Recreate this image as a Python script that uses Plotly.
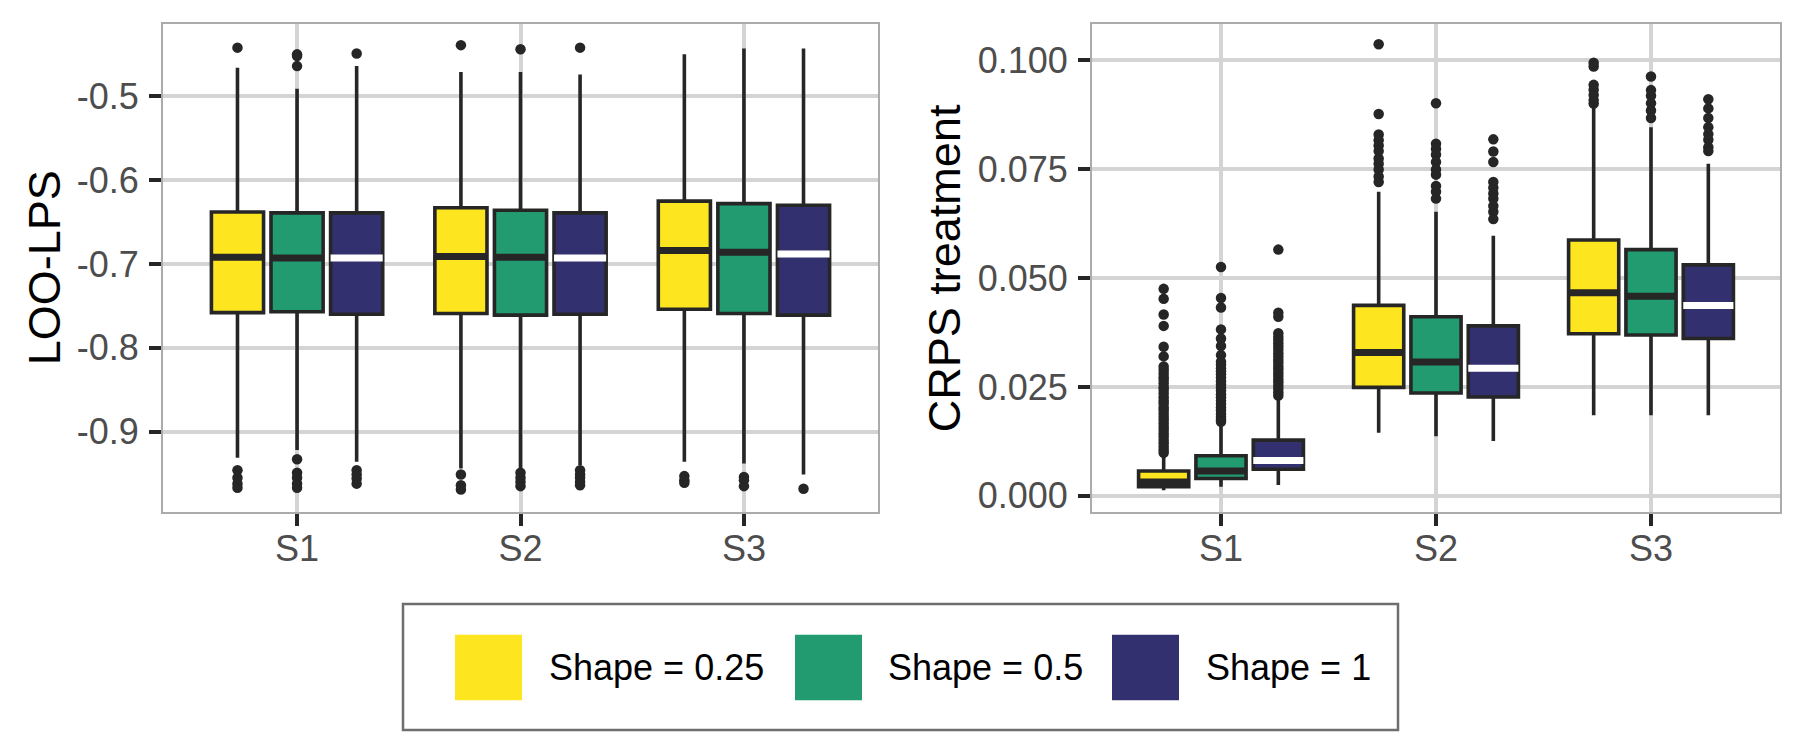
import plotly.graph_objects as go

# ---------------- data ----------------
categories = ["S1", "S2", "S3"]
shape_labels = ["Shape = 0.25", "Shape = 0.5", "Shape = 1"]

lps_ticks = [-0.9, -0.8, -0.7, -0.6, -0.5]
lps_ticktext = ["-0.9", "-0.8", "-0.7", "-0.6", "-0.5"]
crps_ticks = [0.0, 0.025, 0.05, 0.075, 0.1]
crps_ticktext = ["0.000", "0.025", "0.050", "0.075", "0.100"]

# LOO-LPS box statistics: rows = shape (0.25, 0.5, 1), columns = S1, S2, S3
lps_lower = [[-0.931, -0.944, -0.936], [-0.922, -0.944, -0.938], [-0.936, -0.940, -0.951]]
lps_q1 = [[-0.758, -0.759, -0.754], [-0.757, -0.761, -0.759], [-0.760, -0.760, -0.761]]
lps_median = [[-0.692, -0.691, -0.684], [-0.693, -0.692, -0.686], [-0.693, -0.693, -0.688]]
lps_q3 = [[-0.638, -0.633, -0.625], [-0.639, -0.636, -0.628], [-0.639, -0.639, -0.630]]
lps_upper = [[-0.466, -0.471, -0.450], [-0.491, -0.471, -0.443], [-0.464, -0.474, -0.443]]
lps_out_025 = [[-0.442, -0.946, -0.955, -0.962, -0.967],
               [-0.439, -0.951, -0.964, -0.969],
               [-0.953, -0.958, -0.961]]
lps_out_05 = [[-0.450, -0.452, -0.464, -0.933, -0.949, -0.955, -0.962, -0.967],
              [-0.444, -0.949, -0.955, -0.960, -0.965],
              [-0.954, -0.958, -0.965]]
lps_out_1 = [[-0.449, -0.946, -0.951, -0.956, -0.962],
             [-0.442, -0.946, -0.951, -0.955, -0.960, -0.964],
             [-0.968]]

# CRPS treatment box statistics
crps_lower = [[0.0013, 0.0145, 0.0185], [0.0021, 0.0137, 0.0185], [0.0025, 0.0126, 0.0185]]
crps_q1 = [[0.0021, 0.0249, 0.0372], [0.0040, 0.0236, 0.0369], [0.0061, 0.0227, 0.0361]]
crps_median = [[0.0032, 0.0329, 0.0466], [0.0057, 0.0307, 0.0458], [0.0081, 0.0293, 0.0437]]
crps_q3 = [[0.0057, 0.0437, 0.0587], [0.0092, 0.0411, 0.0565], [0.0128, 0.0390, 0.0530]]
crps_upper = [[0.0095, 0.0698, 0.0895], [0.0166, 0.0652, 0.0846], [0.0226, 0.0597, 0.0762]]
crps_out_025 = [[0.0475, 0.0452, 0.0416, 0.0390, 0.0342, 0.0320, 0.0297, 0.0289, 0.0281,
                 0.0272, 0.0266, 0.0258, 0.0249, 0.0243, 0.0235, 0.0226, 0.0219, 0.0212,
                 0.0203, 0.0197, 0.0189, 0.0181, 0.0174, 0.0166, 0.0158, 0.0151, 0.0143,
                 0.0136, 0.0128, 0.0121, 0.0113, 0.0106, 0.0099],
                [0.1036, 0.0876, 0.0829, 0.0816, 0.0804, 0.0791, 0.0774, 0.0762, 0.0749,
                 0.0733, 0.0720],
                [0.0994, 0.0985, 0.0943, 0.0932, 0.0920, 0.0908, 0.0900]]
crps_out_05 = [[0.0525, 0.0454, 0.0432, 0.0382, 0.0361, 0.0344, 0.0323, 0.0308, 0.0301,
                0.0293, 0.0286, 0.0279, 0.0271, 0.0263, 0.0256, 0.0248, 0.0241, 0.0233,
                0.0226, 0.0218, 0.0211, 0.0203, 0.0196, 0.0188, 0.0181, 0.0175, 0.0170],
               [0.0901, 0.0808, 0.0796, 0.0783, 0.0766, 0.0749, 0.0737, 0.0711, 0.0698,
                0.0682],
               [0.0962, 0.0931, 0.0918, 0.0901, 0.0884, 0.0867]]
crps_out_1 = [[0.0565, 0.0420, 0.0411, 0.0373, 0.0365, 0.0358, 0.0350, 0.0343, 0.0335,
               0.0327, 0.0320, 0.0312, 0.0305, 0.0297, 0.0290, 0.0282, 0.0275, 0.0267,
               0.0260, 0.0252, 0.0245, 0.0237, 0.0230],
              [0.0818, 0.0790, 0.0766, 0.0720, 0.0707, 0.0694, 0.0682, 0.0665, 0.0652,
               0.0635],
              [0.0910, 0.0889, 0.0867, 0.0846, 0.0830, 0.0817, 0.0800, 0.0791]]

# ---------------- style ----------------
FILLS = ["#FDE51F", "#229B71", "#32306F"]
MEDIAN_COLORS = ["#262626", "#262626", "#FFFFFF"]
OUTLINE = "#262626"
FONT = "Liberation Sans, Arial, Helvetica, sans-serif"
DODGE = 0.8 / 3
BOXW = 0.7 / 3
W, H = 1800, 750

fig = go.Figure()


def add_panel(xa, ya, lower, q1, med, q3, upper, outliers):
    for g in range(3):
        xs = [i + 1 + (g - 1) * DODGE for i in range(len(categories))]
        fig.add_trace(go.Box(
            x=xs, q1=q1[g], median=med[g], q3=q3[g],
            lowerfence=lower[g], upperfence=upper[g],
            width=BOXW, fillcolor=FILLS[g],
            line=dict(color=OUTLINE, width=3.6), whiskerwidth=0,
            boxpoints=False, xaxis=xa, yaxis=ya,
            showlegend=False, hoverinfo="skip", name=shape_labels[g]))
        mx, my = [], []
        for i, x in enumerate(xs):
            mx += [x - BOXW / 2, x + BOXW / 2, None]
            my += [med[g][i], med[g][i], None]
        fig.add_trace(go.Scatter(
            x=mx, y=my, mode="lines",
            line=dict(color=MEDIAN_COLORS[g], width=7),
            xaxis=xa, yaxis=ya, showlegend=False, hoverinfo="skip"))
        ox, oy = [], []
        for i, x in enumerate(xs):
            ox += [x] * len(outliers[g][i])
            oy += outliers[g][i]
        fig.add_trace(go.Scatter(
            x=ox, y=oy, mode="markers",
            marker=dict(color=OUTLINE, size=10.5, line=dict(width=0)),
            xaxis=xa, yaxis=ya, showlegend=False, hoverinfo="skip"))


add_panel("x", "y", lps_lower, lps_q1, lps_median, lps_q3, lps_upper,
          [lps_out_025, lps_out_05, lps_out_1])
add_panel("x2", "y2", crps_lower, crps_q1, crps_median, crps_q3, crps_upper,
          [crps_out_025, crps_out_05, crps_out_1])


def px(x):
    return x / W


def py(y):
    return 1 - y / H


common_axis = dict(
    showgrid=True, gridcolor="#D4D4D4", gridwidth=4,
    showline=True, mirror=True, linecolor="#ABABAB", linewidth=2,
    ticks="outside", ticklen=12, tickwidth=4, tickcolor="#262626",
    tickfont=dict(family=FONT, size=36, color="#4D4D4D"),
    zeroline=False, fixedrange=True,
)

ydom = [py(515), py(24)]
fig.update_layout(
    width=W, height=H,
    margin=dict(l=0, r=0, t=0, b=0),
    paper_bgcolor="white", plot_bgcolor="white",
    boxmode="overlay", showlegend=False,
    font=dict(family=FONT),
    xaxis=dict(domain=[px(163), px(878)], range=[0.4, 3.6], tickvals=[1, 2, 3],
               ticktext=categories, anchor="y", ticklabelstandoff=-8, **common_axis),
    yaxis=dict(domain=ydom, range=[-0.9953, -0.4136], tickvals=lps_ticks,
               ticktext=lps_ticktext, anchor="x", ticklabelstandoff=3, **common_axis),
    xaxis2=dict(domain=[px(1092), px(1780)], range=[0.4, 3.6], tickvals=[1, 2, 3],
                ticktext=categories, anchor="y2", ticklabelstandoff=-8, **common_axis),
    yaxis2=dict(domain=ydom, range=[-0.0036, 0.1083], tickvals=crps_ticks,
                ticktext=crps_ticktext, anchor="x2", ticklabelstandoff=3, **common_axis),
)

# axis titles
fig.add_annotation(text="LOO-LPS", x=px(44), y=py(270), xref="paper", yref="paper",
                   textangle=-90, showarrow=False, xanchor="center", yanchor="middle",
                   font=dict(family=FONT, size=45, color="black"))
fig.add_annotation(text="CRPS treatment", x=px(944), y=py(270), xref="paper", yref="paper",
                   textangle=-90, showarrow=False, xanchor="center", yanchor="middle",
                   font=dict(family=FONT, size=45, color="black"))

# legend (drawn manually to match large square keys)
fig.add_shape(type="rect", xref="paper", yref="paper",
              x0=px(403), x1=px(1398), y0=py(735), y1=py(608),
              line=dict(color="#6E6E6E", width=2.5), fillcolor="white", layer="below")
key_x = [455, 795, 1112]
label_x = [547, 886, 1204]
for g in range(3):
    fig.add_shape(type="rect", xref="paper", yref="paper",
                  x0=px(key_x[g]), x1=px(key_x[g] + 67), y0=py(705), y1=py(639),
                  line=dict(width=0), fillcolor=FILLS[g])
    fig.add_annotation(text=shape_labels[g], x=px(label_x[g]), y=py(672),
                       xref="paper", yref="paper", showarrow=False,
                       xanchor="left", yanchor="middle",
                       font=dict(family=FONT, size=36, color="black"))

fig.write_html("out.html")
